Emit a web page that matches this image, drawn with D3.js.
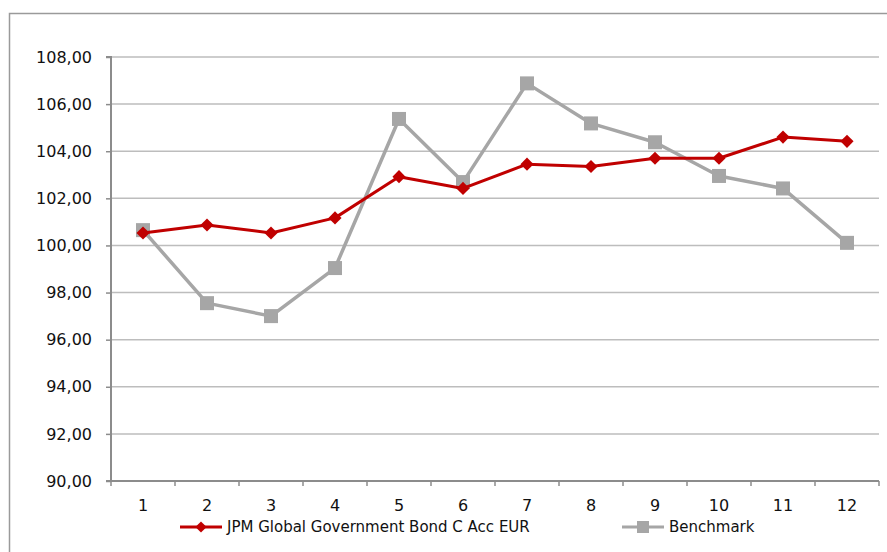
<!DOCTYPE html>
<html>
<head>
<meta charset="utf-8">
<script src="https://cdn.jsdelivr.net/npm/d3@7"></script>
<style>
  body { margin: 0; background: #fff; }
  svg text { font-family: "DejaVu Sans", sans-serif; fill: #111; }
</style>
</head>
<body>
<svg id="canvas"></svg>
<script>
const width = 887;
const height = 552;

const months = ["1", "2", "3", "4", "5", "6", "7", "8", "9", "10", "11", "12"];
const fundValues = [100.53, 100.87, 100.53, 101.17, 102.92, 102.42, 103.45, 103.35, 103.7, 103.7, 104.6, 104.42];
const benchValues = [100.65, 97.55, 97.0, 99.04, 105.37, 102.69, 106.88, 105.18, 104.38, 102.95, 102.42, 100.11];
const yTicks = [90, 92, 94, 96, 98, 100, 102, 104, 106, 108];
const seriesNames = ["JPM Global Government Bond C Acc EUR", "Benchmark"];

const margin = { left: 111, right: 8, top: 57, bottom: 71 };

const svg = d3.select("#canvas").attr("width", width).attr("height", height);

// outer frame (right and bottom edges fall outside the picture)
svg.append("path")
  .attr("d", `M9.5,${height + 5}V13.5H${width + 5}`)
  .attr("fill", "none")
  .attr("stroke", "#9a9a9a")
  .attr("stroke-width", 1.5);

const xScale = d3.scaleBand()
  .domain(months)
  .range([margin.left, width - margin.right]);

const yScale = d3.scaleLinear()
  .domain([90, 108])
  .range([height - margin.bottom, margin.top]);

// gridlines
svg.append("g")
  .selectAll("line")
  .data(yTicks.slice(1))
  .enter()
  .append("line")
  .attr("x1", margin.left)
  .attr("x2", width - margin.right)
  .attr("y1", (d) => yScale(d))
  .attr("y2", (d) => yScale(d))
  .attr("stroke", "#bdbdbd")
  .attr("stroke-width", 1.5);

const fmt = (d) => d.toFixed(2).replace(".", ",");

const yAxis = svg.append("g")
  .attr("transform", `translate(${margin.left}, 0)`)
  .call(d3.axisLeft(yScale).tickValues(yTicks).tickSize(5).tickPadding(14).tickFormat(fmt));

const xAxis = svg.append("g")
  .attr("transform", `translate(0, ${height - margin.bottom})`)
  .call(d3.axisBottom(xScale).tickSize(0).tickPadding(19));

// x ticks sit at band edges
xAxis.selectAll(".edge")
  .data(d3.range(months.length + 1))
  .enter()
  .append("line")
  .attr("x1", (i) => margin.left + i * xScale.step())
  .attr("x2", (i) => margin.left + i * xScale.step())
  .attr("y1", 0)
  .attr("y2", 5)
  .attr("stroke", "#8c8c8c")
  .attr("stroke-width", 1.5);

[yAxis, xAxis].forEach((ax) => {
  ax.selectAll(".domain").attr("stroke", "#8c8c8c").attr("stroke-width", 2);
  ax.selectAll(".tick line").attr("stroke", "#8c8c8c").attr("stroke-width", 1.5);
  ax.selectAll("text").style("font-size", "16px").style("font-family", "DejaVu Sans, sans-serif").attr("fill", "#111");
});
yAxis.select(".domain").attr("d", `M-5,${yScale(90)}H0V${yScale(108)}H-5`);
xAxis.select(".domain").attr("d", `M${margin.left},0H${width - margin.right}`);

const cx = (d, i) => xScale(months[i]) + xScale.bandwidth() / 2;

const line = d3.line().x(cx).y((d) => yScale(d));

const fundColor = "#c00000";
const benchColor = "#a6a6a6";

svg.append("path")
  .datum(benchValues)
  .attr("d", line)
  .attr("fill", "none")
  .attr("stroke", benchColor)
  .attr("stroke-width", 3.5)
  .attr("stroke-linejoin", "round");

svg.append("g")
  .selectAll("rect")
  .data(benchValues)
  .enter()
  .append("rect")
  .attr("x", (d, i) => cx(d, i) - 7)
  .attr("y", (d) => yScale(d) - 7)
  .attr("width", 14)
  .attr("height", 14)
  .attr("fill", benchColor);

svg.append("path")
  .datum(fundValues)
  .attr("d", line)
  .attr("fill", "none")
  .attr("stroke", fundColor)
  .attr("stroke-width", 3)
  .attr("stroke-linejoin", "round");

const diamond = d3.symbol().type(d3.symbolDiamond2).size(110);

svg.append("g")
  .selectAll("path")
  .data(fundValues)
  .enter()
  .append("path")
  .attr("d", diamond)
  .attr("transform", (d, i) => `translate(${cx(d, i)}, ${yScale(d)})`)
  .attr("fill", fundColor);

// legend
const legend = svg.append("g").attr("transform", "translate(0, 527)");
const legendItems = [
  { name: seriesNames[0], color: fundColor, x: 180, shape: "diamond" },
  { name: seriesNames[1], color: benchColor, x: 622, shape: "square" }
];

legendItems.forEach((it) => {
  const g = legend.append("g").attr("transform", `translate(${it.x}, 0)`);
  g.append("line")
    .attr("x1", 0).attr("x2", 42).attr("y1", 0).attr("y2", 0)
    .attr("stroke", it.color).attr("stroke-width", 3);
  if (it.shape === "diamond") {
    g.append("path").attr("d", d3.symbol().type(d3.symbolDiamond2).size(80))
      .attr("transform", "translate(21, 0)").attr("fill", it.color);
  } else {
    g.append("rect").attr("x", 15).attr("y", -6).attr("width", 12).attr("height", 12).attr("fill", it.color);
  }
  g.append("text")
    .attr("x", 47)
    .attr("y", 5)
    .style("font-size", "15px")
    .text(it.name);
});
</script>
</body>
</html>
